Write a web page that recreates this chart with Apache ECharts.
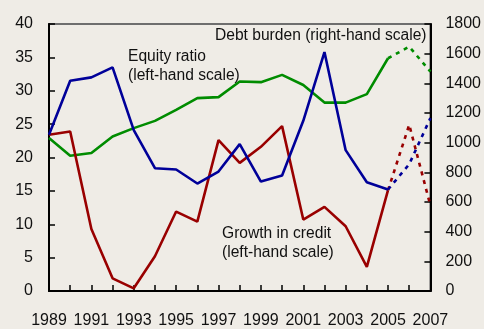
<!DOCTYPE html>
<html>
<head>
<meta charset="utf-8">
<style>
  html, body { margin: 0; padding: 0; background: #EFECE6; }
  #chart { width: 484px; height: 329px; }
</style>
<script src="https://cdn.jsdelivr.net/npm/echarts@6/dist/echarts.min.js"></script>
</head>
<body>
<div id="chart"></div>
<script>
// Years on the horizontal axis
var years = ['1989','1990','1991','1992','1993','1994','1995','1996','1997','1998',
             '1999','2000','2001','2002','2003','2004','2005','2006','2007'];

// Equity ratio, per cent (left-hand scale), 1989-2005
var equityRatio = [23.4, 31.5, 32.0, 33.5, 24.1, 18.4, 18.2, 16.1, 17.9, 22.0,
                   16.4, 17.3, 25.5, 35.8, 21.1, 16.3, 15.2];
// Equity ratio projections, 2005-2007
var equityRatioProj = [15.2, 19.0, 25.9];

// Growth in credit, per cent (left-hand scale), 1989-2005
var creditGrowth = [23.4, 23.9, 9.3, 1.9, 0.4, 5.2, 11.9, 10.4, 22.6, 19.2,
                    21.6, 24.7, 10.7, 12.6, 9.7, 3.6, 15.1];
// Growth in credit projections, 2005-2007
var creditGrowthProj = [15.1, 24.9, 12.8];

// Debt burden (right-hand scale), 1989-2005
var debtBurden = [1031, 912, 930, 1042, 1098, 1147, 1221, 1300, 1307, 1412,
                  1408, 1457, 1389, 1270, 1270, 1327, 1569];
// Debt burden projections, 2005-2007
var debtBurdenProj = [1569, 1647, 1479];

// Axis scales
var leftScale = { min: 0, max: 40, interval: 5 };
var rightScale = { min: 0, max: 1800, interval: 200 };

// Place a projection segment at the end of the year range
function projected(values) {
  var out = years.map(function () { return null; });
  var start = years.length - values.length;
  values.forEach(function (v, i) { out[start + i] = v; });
  return out;
}

var BLUE = '#000099', RED = '#990000', GREEN = '#008C00';
var FONT = 'Liberation Sans, Arial, sans-serif';
var dash = [4, 5];

var chart = echarts.init(document.getElementById('chart'), null, { renderer: 'canvas' });

function lineSeries(data, color, axisIndex, dashed) {
  return {
    type: 'line',
    yAxisIndex: axisIndex,
    data: data,
    symbol: 'none',
    connectNulls: false,
    animation: false,
    lineStyle: { color: color, width: 2.6, type: dashed ? dash : 'solid' },
    z: 3
  };
}

var axisText = { color: '#111', fontFamily: FONT, fontSize: 16 };
var annText = { fill: '#111', font: '15.6px ' + FONT };

chart.setOption({
  backgroundColor: '#EFECE6',
  animation: false,
  grid: {
    left: 49, right: 51, top: 24, bottom: 37.5,
    show: true, borderColor: '#6e6e6e', borderWidth: 2, backgroundColor: 'transparent'
  },
  xAxis: {
    type: 'category',
    data: years,
    boundaryGap: false,
    axisLine: { lineStyle: { color: '#000', width: 2 } },
    axisTick: { inside: true, length: 6, interval: 0, lineStyle: { color: '#000', width: 1.5 } },
    axisLabel: Object.assign({ interval: 1, margin: 22 }, axisText),
    splitLine: { show: false }
  },
  yAxis: [
    {
      type: 'value',
      position: 'left',
      min: leftScale.min, max: leftScale.max, interval: leftScale.interval,
      axisLine: { show: true, lineStyle: { color: '#000', width: 2 } },
      axisTick: { show: true, inside: true, length: 6, lineStyle: { color: '#000', width: 1.5 } },
      axisLabel: Object.assign({ margin: 16 }, axisText),
      splitLine: { show: false }
    },
    {
      type: 'value',
      position: 'right',
      min: rightScale.min, max: rightScale.max, interval: rightScale.interval,
      axisLine: { show: true, lineStyle: { color: '#000', width: 2 } },
      axisTick: { show: true, inside: true, length: 6, lineStyle: { color: '#000', width: 1.5 } },
      axisLabel: Object.assign({ margin: 15, formatter: function (v) { return String(v); } }, axisText),
      splitLine: { show: false }
    }
  ],
  series: [
    lineSeries(debtBurden, GREEN, 1, false),
    lineSeries(projected(debtBurdenProj), GREEN, 1, true),
    lineSeries(creditGrowth, RED, 0, false),
    lineSeries(projected(creditGrowthProj), RED, 0, true),
    lineSeries(equityRatio, BLUE, 0, false),
    lineSeries(projected(equityRatioProj), BLUE, 0, true)
  ],
  graphic: [
    { type: 'text', left: 128, top: 47, style: Object.assign({ text: 'Equity ratio\n(left-hand scale)', lineHeight: 19 }, annText) },
    { type: 'text', left: 215, top: 28, style: Object.assign({ text: 'Debt burden (right-hand scale)' }, annText) },
    { type: 'text', left: 222, top: 224, style: Object.assign({ text: 'Growth in credit\n(left-hand scale)', lineHeight: 19 }, annText) }
  ]
});
</script>
</body>
</html>
